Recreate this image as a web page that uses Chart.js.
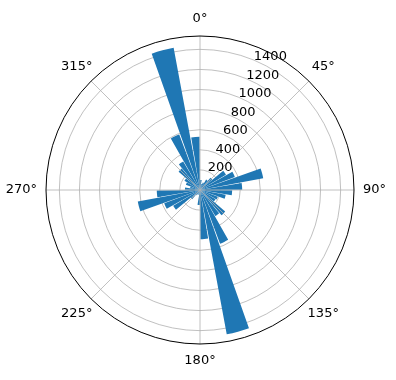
<!DOCTYPE html>
<html>
<head>
<meta charset="utf-8">
<script src="https://cdn.jsdelivr.net/npm/chart.js@4.4.1/dist/chart.umd.min.js"></script>
<style>
  html, body { margin: 0; padding: 0; background: #fff; }
  #wrap { width: 396px; height: 380px; }
</style>
</head>
<body>
<div id="wrap"><canvas id="rosa"></canvas></div>
<script>
// === DATOS: direcciones (centro de cada sector, grados) y valores ===
const direcciones = [5, 15, 25, 35, 45, 55, 65, 75, 85, 95, 105, 115,
                     125, 135, 145, 155, 165, 175, 185, 195, 205, 215, 225, 235,
                     245, 255, 265, 275, 285, 295, 305, 315, 325, 335, 345, 355];
const valores = [100, 60, 80, 120, 160, 300, 370, 640, 420, 320, 260, 190,
                 180, 330, 300, 570, 1460, 490, 150, 50, 40, 60, 120, 310,
                 380, 630, 430, 150, 100, 150, 180, 280, 330, 590, 1440, 530];
const ticksRadiales = [200, 400, 600, 800, 1000, 1200, 1400];
const etiquetasAngulo = ["0°", "45°", "90°", "135°", "180°", "225°", "270°", "315°"];

const anchoSector = 10;   // grados por dirección
const anchoBarra = 9;     // parte ocupada por la barra
const rMax = 1533;

// cada barra va seguida de un hueco vacío (valor 0)
const datos = [];
const angulos = [];
direcciones.forEach((d, i) => {
    datos.push(valores[i]);
    angulos.push(anchoBarra);
    datos.push(0);
    angulos.push(anchoSector - anchoBarra);
});

const FUENTE = "13px 'DejaVu Sans', sans-serif";

// lineas angulares y etiquetas (cada 45°) + etiquetas radiales a 22.5°
const polarExtras = {
    id: "polarExtras",
    afterDatasetsDraw(chart) {
        const s = chart.scales.r;
        const ctx = chart.ctx;
        const cx = s.xCenter, cy = s.yCenter, R = s.drawingArea;
        ctx.save();
        ctx.strokeStyle = "#b0b0b0";
        ctx.lineWidth = 0.8;
        for (let k = 0; k < 8; k++) {
            const a = k * 45 * Math.PI / 180;
            ctx.beginPath();
            ctx.moveTo(cx, cy);
            ctx.lineTo(cx + R * Math.sin(a), cy - R * Math.cos(a));
            ctx.stroke();
        }
        // borde exterior
        ctx.strokeStyle = "#000";
        ctx.lineWidth = 1;
        ctx.beginPath();
        ctx.arc(cx, cy, R, 0, Math.PI * 2);
        ctx.stroke();

        ctx.fillStyle = "#000";
        ctx.font = FUENTE;
        ctx.textAlign = "center";
        ctx.textBaseline = "middle";
        const pad = 9, altoCaja = 16;
        etiquetasAngulo.forEach((t, k) => {
            const a = k * 45 * Math.PI / 180;
            const sn = Math.abs(Math.sin(a)), cs = Math.abs(Math.cos(a));
            const w = ctx.measureText(t).width;
            const mitad = Math.min(sn > 1e-6 ? (w / 2) / sn : Infinity,
                                   cs > 1e-6 ? (altoCaja / 2) / cs : Infinity);
            const d = R + pad + mitad;
            ctx.fillText(t, cx + d * Math.sin(a), cy - d * Math.cos(a));
        });

        ctx.textAlign = "left";
        ctx.textBaseline = "alphabetic";
        const ar = 22.5 * Math.PI / 180;
        ticksRadiales.forEach(v => {
            const d = s.getDistanceFromCenterForValue(v);
            ctx.fillText(String(v), cx + d * Math.sin(ar), cy - d * Math.cos(ar));
        });
        ctx.restore();
    }
};

new Chart(document.getElementById("rosa"), {
    type: "polarArea",
    data: {
        labels: datos.map((_, i) => String(i)),
        datasets: [{
            data: datos,
            angle: (c) => angulos[c.dataIndex],
            backgroundColor: "#1f77b4",
            borderWidth: 0
        }]
    },
    options: {
        responsive: true,
        maintainAspectRatio: false,
        animation: false,
        layout: { padding: { left: 46, right: 42, top: 36, bottom: 36 } },
        plugins: { legend: { display: false }, tooltip: { enabled: false } },
        scales: {
            r: {
                min: 0,
                max: rMax,
                startAngle: (anchoSector - anchoBarra) / 2,
                z: 1,
                ticks: { display: false, stepSize: 200 },
                grid: {
                    color: (c) => (c.tick && c.tick.value >= rMax) ? "rgba(0,0,0,0)" : "#b0b0b0",
                    lineWidth: 0.8
                },
                angleLines: { display: false },
                pointLabels: { display: false }
            }
        }
    },
    plugins: [polarExtras]
});
</script>
</body>
</html>
